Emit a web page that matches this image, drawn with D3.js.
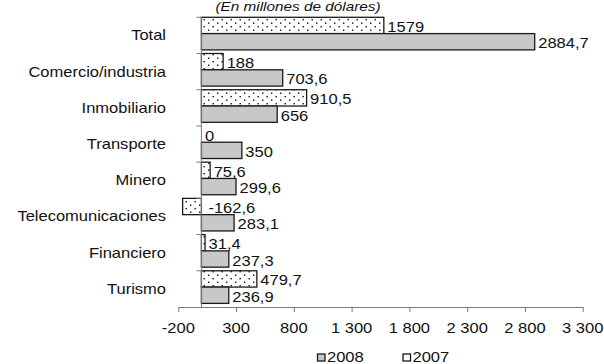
<!DOCTYPE html>
<html>
<head>
<meta charset="utf-8">
<script src="https://cdn.jsdelivr.net/npm/d3@7/dist/d3.min.js"></script>
<style>
  html, body { margin: 0; padding: 0; background: #fff; }
  svg { display: block; }
  text { font-family: "Liberation Sans", Arial, sans-serif; fill: #111; }
</style>
</head>
<body>
<svg id="chart" width="604" height="364"></svg>
<script>
// Inversión por sector (millones de dólares)
const categories = ["Total", "Comercio/industria", "Inmobiliario", "Transporte",
                    "Minero", "Telecomunicaciones", "Financiero", "Turismo"];
const values2008 = [2884.7, 703.6, 656, 350, 299.6, 283.1, 237.3, 236.9];
const values2007 = [1579, 188, 910.5, 0, 75.6, -162.6, 31.4, 479.7];
const seriesNames = ["2007", "2008"];
const xTicks = [-200, 300, 800, 1300, 1800, 2300, 2800, 3300];
const title = "(En millones de dólares)";

const svg = d3.select("#chart");
const SX = 1.18; // horizontal stretch of the lettering

const x = d3.scaleLinear().domain([-200, 3300]).range([178.3, 582.7]);
const y = d3.scaleBand().domain(categories).range([17.3, 307]);
const ySub = d3.scaleBand().domain(seriesNames).range([0, y.bandwidth() * 0.9]);

// dotted fill for 2007
const defs = svg.append("defs");
const pat = defs.append("pattern")
  .attr("id", "dots").attr("patternUnits", "userSpaceOnUse")
  .attr("width", 9).attr("height", 7);
pat.append("rect").attr("width", 9).attr("height", 7).attr("fill", "#fff");
pat.append("rect").attr("x", 1).attr("y", 1.5).attr("width", 1.4).attr("height", 1.4).attr("fill", "#111");
pat.append("rect").attr("x", 5.5).attr("y", 5).attr("width", 1.4).attr("height", 1.4).attr("fill", "#111");

const fills = { "2007": "url(#dots)", "2008": "#c8c8c8" };
const comma = v => String(v).replace(".", ",");
const stretched = (sel, tx, ty) => sel.attr("transform", `translate(${tx},${ty}) scale(${SX},1)`);

// title
stretched(svg.append("text").text(title)
  .attr("text-anchor", "middle").attr("font-size", 13).attr("font-style", "italic"), 298, 11);

// bars
const rows = categories.map((c, i) => ({ c, "2007": values2007[i], "2008": values2008[i] }));
const g = svg.append("g");
rows.forEach(r => {
  seriesNames.forEach(s => {
    const v = r[s];
    const y0 = y(r.c) + ySub(s);
    const x0 = Math.min(x(0), x(v)), x1 = Math.max(x(0), x(v));
    if (v !== 0) {
      g.append("rect")
        .attr("x", x0).attr("y", y0)
        .attr("width", x1 - x0).attr("height", ySub.bandwidth())
        .attr("fill", fills[s]).attr("stroke", "#1a1a1a").attr("stroke-width", 1.3);
    }
    const lx = v < 0 ? x(0) + 7 : x(v) + 3.5;
    stretched(g.append("text").text(comma(v)).attr("font-size", 14),
      lx, y0 + ySub.bandwidth() / 2 + 6.5);
  });
});

// category axis at zero
const ax = svg.append("g").attr("stroke", "#7a7a7a").attr("stroke-width", 1);
ax.append("line").attr("x1", x(0)).attr("x2", x(0)).attr("y1", y.range()[0]).attr("y2", y.range()[1]);
categories.forEach(c => {
  ax.append("line").attr("x1", x(0) - 5).attr("x2", x(0)).attr("y1", y(c)).attr("y2", y(c));
});
categories.forEach(c => {
  stretched(svg.append("text").text(c).attr("text-anchor", "end").attr("font-size", 14),
    166, y(c) + y.bandwidth() / 2 + 5);
});

// value axis
const fmt = d3.formatLocale({ decimal: ",", thousands: "\u00a0", grouping: [3], currency: ["", ""], minus: "-" }).format(",d");
const xAxis = svg.append("g").attr("transform", `translate(0,${y.range()[1]})`)
  .call(d3.axisBottom(x).tickValues(xTicks).tickSize(5).tickSizeOuter(0).tickFormat(fmt));
xAxis.select(".domain").attr("stroke", "#7a7a7a");
xAxis.selectAll(".tick line").attr("stroke", "#7a7a7a");
xAxis.selectAll(".tick text").remove();
xTicks.forEach(t => {
  stretched(svg.append("text").text(fmt(t)).attr("text-anchor", "middle").attr("font-size", 14),
    x(t), 332.5);
});

// legend
const legend = [{ s: "2008", x: 317.5 }, { s: "2007", x: 403 }];
legend.forEach(d => {
  svg.append("rect").attr("x", d.x).attr("y", 354).attr("width", 7.5).attr("height", 7)
    .attr("fill", d.s === "2008" ? fills["2008"] : "#fff").attr("stroke", "#1a1a1a").attr("stroke-width", 1.3);
  stretched(svg.append("text").text(d.s).attr("font-size", 14), d.x + 9.5, 362);
});
</script>
</body>
</html>
